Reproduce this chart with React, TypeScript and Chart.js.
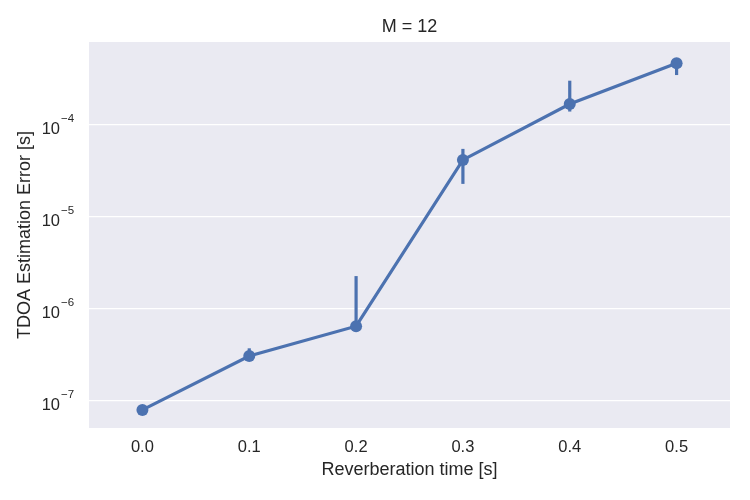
import React, { useRef, useEffect } from "react";
import { Chart, registerables } from "chart.js";

Chart.register(...registerables);

const categories = ["0.0", "0.1", "0.2", "0.3", "0.4", "0.5"];
const meanError = [8.0e-8, 3.08e-7, 6.5e-7, 4.17e-5, 1.69e-4, 4.69e-4];
const lowerError = [7.8e-8, 2.95e-7, 6.3e-7, 2.29e-5, 1.4e-4, 3.49e-4];
const upperError = [8.2e-8, 3.74e-7, 2.28e-6, 5.5e-5, 3.03e-4, 4.9e-4];
const decadeTicks = [1e-7, 1e-6, 1e-5, 1e-4];

const FONT = "'Liberation Sans', Arial, sans-serif";
const TEXT = "#262626";
const BLUE = "#4C72B0";

// fond gris du style seaborn + barres d'erreur + titre + ticks 10^n
const seabornPlugin = {
  id: "seaborn",
  beforeDraw(chart: any) {
    const { ctx, chartArea: a } = chart;
    ctx.save();
    ctx.fillStyle = "#EAEAF2";
    ctx.fillRect(a.left, a.top, a.right - a.left, a.bottom - a.top);
    ctx.restore();
  },
  beforeDatasetsDraw(chart: any) {
    const { ctx } = chart;
    const x = chart.scales.x;
    const y = chart.scales.y;
    ctx.save();
    ctx.strokeStyle = BLUE;
    ctx.lineWidth = 3.2;
    ctx.lineCap = "butt";
    categories.forEach((_, i) => {
      const px = x.getPixelForValue(i);
      ctx.beginPath();
      ctx.moveTo(px, y.getPixelForValue(lowerError[i]));
      ctx.lineTo(px, y.getPixelForValue(upperError[i]));
      ctx.stroke();
    });
    ctx.restore();
  },
  afterDraw(chart: any) {
    const { ctx, chartArea: a } = chart;
    const y = chart.scales.y;
    ctx.save();
    ctx.fillStyle = TEXT;
    ctx.textBaseline = "middle";
    ctx.textAlign = "center";
    ctx.font = `18px ${FONT}`;
    ctx.fillText("M = 12", (a.left + a.right) / 2, 27);
    decadeTicks.forEach((v) => {
      const py = y.getPixelForValue(v);
      const exp = Math.round(Math.log10(v));
      ctx.textAlign = "right";
      ctx.font = `16.5px ${FONT}`;
      ctx.fillText("10", 60, py + 4);
      ctx.textAlign = "left";
      ctx.font = `11.5px ${FONT}`;
      ctx.fillText("\u2212" + Math.abs(exp), 61, py - 6);
    });
    ctx.restore();
  },
};

export default function App() {
  const canvasRef = useRef<HTMLCanvasElement>(null);
  const chartRef = useRef<Chart | null>(null);

  useEffect(() => {
    document.body.style.margin = "0";
    if (!canvasRef.current) return;
    if (chartRef.current) chartRef.current.destroy();

    chartRef.current = new Chart(canvasRef.current, {
      type: "line",
      data: {
        labels: categories,
        datasets: [
          {
            data: meanError,
            borderColor: BLUE,
            backgroundColor: BLUE,
            borderWidth: 3.2,
            pointRadius: 6,
            pointHoverRadius: 6,
            pointBorderWidth: 0,
            tension: 0,
          },
        ],
      },
      options: {
        animation: false,
        responsive: false,
        devicePixelRatio: 1,
        layout: { padding: { top: 42, right: 20, left: 0, bottom: 0 } },
        plugins: {
          legend: { display: false },
          tooltip: { enabled: false },
        },
        scales: {
          x: {
            type: "category",
            offset: true,
            border: { display: false },
            grid: { display: false, drawTicks: false },
            ticks: {
              color: TEXT,
              padding: 10,
              font: { family: FONT, size: 16.5 },
            },
            title: {
              display: true,
              text: "Reverberation time [s]",
              color: TEXT,
              font: { family: FONT, size: 18 },
              padding: { top: 0, bottom: 19 },
            },
            afterFit(scale: any) {
              scale.height = 72;
            },
          },
          y: {
            type: "logarithmic",
            min: 5.09e-8,
            max: 7.98e-4,
            border: { display: false },
            grid: { color: "#FFFFFF", lineWidth: 1.2, drawTicks: false },
            ticks: { display: false },
            afterBuildTicks(scale: any) {
              scale.ticks = decadeTicks.map((v) => ({ value: v }));
            },
            title: {
              display: true,
              text: "TDOA Estimation Error [s]",
              color: TEXT,
              font: { family: FONT, size: 18 },
              padding: { top: 14, bottom: 0 },
            },
            afterFit(scale: any) {
              scale.width = 89;
            },
          },
        },
      },
      plugins: [seabornPlugin],
    });

    return () => {
      if (chartRef.current) {
        chartRef.current.destroy();
        chartRef.current = null;
      }
    };
  }, []);

  return (
    <div style={{ width: 750, height: 500, background: "#fff" }}>
      <canvas ref={canvasRef} width={750} height={500}></canvas>
    </div>
  );
}
